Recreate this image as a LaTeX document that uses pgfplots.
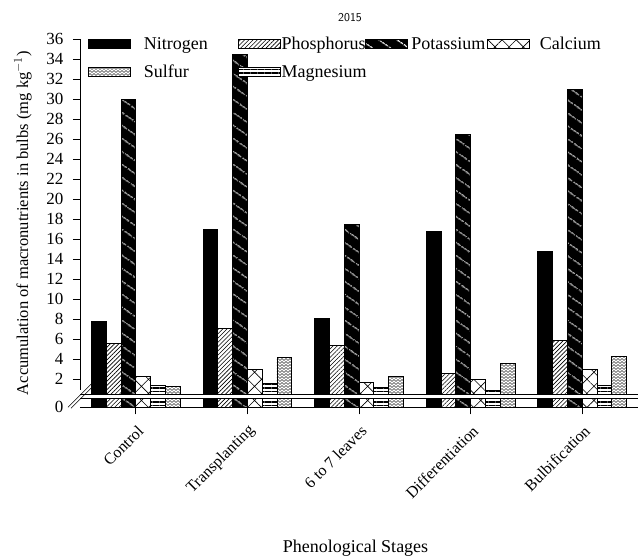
\documentclass[border=0pt]{standalone}
\usepackage{fontspec}
\setmainfont{Liberation Serif}
\usepackage{pgfplots}
\pgfplotsset{compat=1.18}
\usepackage{pgfplotstable}
\usetikzlibrary{patterns,patterns.meta}

\pgfdeclarepattern{
  name=zigzag,
  type=uncolored,
  bottom left={\pgfpoint{-0.2pt}{-0.2pt}},
  top right={\pgfpoint{4.2pt}{3.2pt}},
  tile size={\pgfpoint{4pt}{3pt}},
  code={
    \pgfsetlinewidth{0.6pt}
    \pgfpathmoveto{\pgfpoint{0pt}{0.5pt}}
    \pgfpathlineto{\pgfpoint{2pt}{2.5pt}}
    \pgfpathlineto{\pgfpoint{4pt}{0.5pt}}
    \pgfusepath{stroke}
  }
}

\pgfplotstableread{
x N P K Ca Mg S
0 7.8 5.6 30.0 2.3 1.4 1.3
1 17.0 7.1 34.5 3.0 1.6 4.2
2 8.1 5.4 17.5 1.7 1.2 2.3
3 16.8 2.6 26.5 2.0 0.9 3.6
4 14.8 5.9 31.0 3.0 1.4 4.3
}\datatable

\begin{document}
\begin{tikzpicture}
\begin{axis}[
  at={(0pt,0pt)}, anchor=south west,
  scale only axis, width=558pt, height=368.3pt,
  xmin=-0.5, xmax=4.5, ymin=0, ymax=36.8,
  ybar, bar width=0.1326,
  axis x line*=bottom, axis y line*=left,
  y axis line style={draw=none},
  every axis plot/.append style={line width=0.7pt},
  tick align=outside, major tick length=7pt,
  tick style={black, line width=0.7pt},
  xtick={0,1,2,3,4},
  xticklabels={Control,Transplanting,6 to 7 leaves,Differentiation,Bulbification},
  x tick label style={rotate=45, anchor=east, font=\fontsize{16}{19}\selectfont, inner sep=0pt, xshift=-6.4pt, yshift=-13.4pt},
  ytick={2.8,4.8,6.8,8.8,10.8,12.8,14.8,16.8,18.8,20.8,22.8,24.8,26.8,28.8,30.8,32.8,34.8,36.8},
  yticklabels={2,4,6,8,10,12,14,16,18,20,22,24,26,28,30,32,34,36},
  extra y ticks={0}, extra y tick labels={0},
  extra y tick style={tick style={draw=none}},
  y tick label style={font=\fontsize{17}{20}\selectfont, xshift=-6pt},
  /pgf/number format/assume math mode=true,
  ylabel={Accumulation of macronutrients in bulbs (mg kg$^{-1}$)},
  ylabel style={at={(axis description cs:-0.1022,0.5)}, anchor=center, font=\fontsize{16.5}{19}\selectfont},
  xlabel={Phenological Stages},
  xlabel style={at={(axis description cs:0.5,0)}, anchor=base, yshift=-145pt, xshift=-3.5pt, font=\fontsize{18}{21}\selectfont},
  legend columns=4,
  legend cell align=left,
  legend image code/.code={\draw[#1,/tikz/.cd,bar shift=0pt] (0pt,-4.5pt) rectangle (42pt,4.5pt);},
  legend style={draw=none, fill=none, at={(axis description cs:0.0143,1.011)}, anchor=north west,
    font=\fontsize{18}{21}\selectfont, inner sep=0pt, row sep=10pt,
    /tikz/column 1/.style={column sep=11pt},
    /tikz/column 2/.style={column sep=28pt},
    /tikz/column 3/.style={column sep=-1pt},
    /tikz/column 4/.style={column sep=-4pt},
    /tikz/column 5/.style={column sep=2pt},
    /tikz/column 6/.style={column sep=0pt},
    /tikz/column 7/.style={column sep=8pt}},
]
\addplot[draw=black, fill=black, bar shift=-0.3315] table[x=x, y expr=\thisrow{N}+0.8] {\datatable};
\addlegendentry{Nitrogen}
\addplot[draw=black, pattern={Lines[angle=45,distance=3pt,line width=0.6pt]}, pattern color=black, bar shift=-0.1989] table[x=x, y expr=\thisrow{P}+0.8] {\datatable};
\addlegendentry{Phosphorus}
\addplot[draw=black, fill=black, postaction={pattern={Lines[angle=-35,distance=10.5pt,line width=1pt]}, pattern color=white}, bar shift=-0.0663] table[x=x, y expr=\thisrow{K}+0.8] {\datatable};
\addlegendentry{Potassium}
\addplot[draw=black, fill=white, postaction={pattern={Hatch[angle=45,distance=10pt,line width=0.6pt]}, pattern color=black}, bar shift=0.0663] table[x=x, y expr=\thisrow{Ca}+0.8] {\datatable};
\addlegendentry{Calcium}
\addplot[draw=black, fill=white, postaction={pattern=zigzag, pattern color=black!80}, bar shift=0.3315] table[x=x, y expr=\thisrow{S}+0.8] {\datatable};
\addlegendentry{Sulfur}
\addplot[draw=black, fill=white, postaction={pattern={Lines[angle=0,distance=3.5pt,line width=1.1pt]}, pattern color=black}, bar shift=0.1989] table[x=x, y expr=\thisrow{Mg}+0.8] {\datatable};
\addlegendentry{Magnesium}
% axis break band
\fill[white] (axis cs:-0.5,0.9) rectangle (axis cs:4.5,1.3);
\draw[line width=0.7pt] (axis cs:-0.5,0.9) -- (axis cs:4.5,0.9);
\draw[line width=0.7pt] (axis cs:-0.5,1.3) -- (axis cs:4.5,1.3);
% y axis line above the break
\draw[line width=0.7pt] (axis cs:-0.5,1.75) -- (axis cs:-0.5,36.8);
\end{axis}
% break marks on the y axis
\draw[line width=0.6pt] (-12pt,0pt) -- (12pt,24pt);
\draw[line width=0.6pt] (-9pt,-1pt) -- (13.5pt,21.5pt);
\node[font=\sffamily\fontsize{12}{14}\selectfont] at (270pt,390pt) {2015};
\pgfresetboundingbox
\useasboundingbox (-80pt,-148.7pt) rectangle (558pt,407.3pt);
\end{tikzpicture}
\end{document}
